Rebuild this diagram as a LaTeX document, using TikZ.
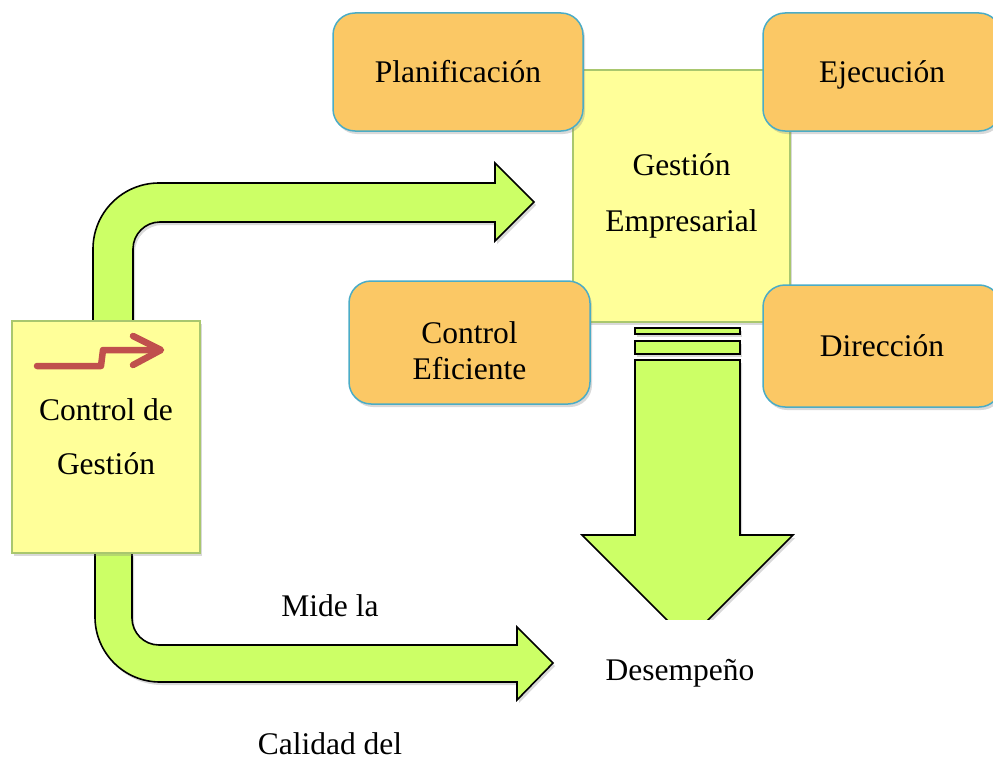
\documentclass[tikz,border=0pt]{standalone}
\usepackage{fontspec}
\setmainfont{Liberation Serif}
\usetikzlibrary{positioning, calc, shadows}

\definecolor{boxyellow}{HTML}{FFFF99}
\definecolor{boxedge}{HTML}{A9C76E}
\definecolor{taskorange}{HTML}{FBC865}
\definecolor{taskedge}{HTML}{4BACC6}
\definecolor{flowgreen}{HTML}{CCFF66}
\definecolor{markred}{HTML}{C0504D}

\begin{document}
\begin{tikzpicture}[x=1pt, y=-1pt,
    softshadow/.style={drop shadow={opacity=0.3, shadow xshift=2pt, shadow yshift=-3pt}},
    mainbox/.style={draw=boxedge, line width=1.5pt, fill=boxyellow, softshadow,
        font=\fontsize{31.5}{37.8}\selectfont, align=center, inner sep=0pt},
    taskbox/.style={draw=taskedge, line width=1.5pt, fill=taskorange, rounded corners=22pt, softshadow,
        font=\fontsize{31.5}{37.8}\selectfont, inner sep=0pt, text height=28pt, text depth=7pt},
    flow/.style={draw=black, line width=1.6pt, fill=flowgreen, line join=miter, softshadow},
    lbl/.style={font=\fontsize{31.5}{37.8}\selectfont, align=center, inner sep=0pt}]

    \useasboundingbox (0,0) rectangle (993,760);

    % bent arrows out of the control box
    \draw[flow]
        (93,321) [rounded corners=66pt]-- (93,183) [sharp corners]-- (495,183) -- (495,163)
        -- (534,202) -- (495,241) -- (495,222) [rounded corners=27pt]-- (133,222)
        [sharp corners]-- (133,321) -- cycle;
    \draw[flow]
        (95,553) [rounded corners=65pt]-- (95,682) [sharp corners]-- (517,682) -- (517,700)
        -- (553,663) -- (517,627) -- (517,645) [rounded corners=27pt]-- (132,645)
        [sharp corners]-- (132,553) -- cycle;

    % arrow down to the result
    \draw[flow] (635,328) rectangle (740,334);
    \draw[flow] (635,341) rectangle (740,354);
    \begin{scope}
        \clip (0,0) rectangle (993,619);
        \draw[flow]
            (635,360) -- (740,360) -- (740,535) -- (793,535) -- (687.5,640.5)
            -- (582,535) -- (635,535) -- cycle;
    \end{scope}

    % main boxes
    \node[mainbox, minimum width=217pt, minimum height=252pt] (ge) at (681.5,196)
        {Gesti\'on\\[18pt]Empresarial};
    \node[mainbox, minimum width=188pt, minimum height=232pt] (cg) at (106,437)
        {Control de\\[16pt]Gesti\'on};

    % task boxes round the main box
    \foreach \name/\cx/\cy/\w/\h/\txt in {
        plan/458/72/250/118/{Planificaci\'on},
        ejec/882/72/238/118/{Ejecuci\'on},
        ctrl/469.5/342.5/241/123/{},
        dire/882/346/238/122/{Direcci\'on}}{

        \node[taskbox, minimum width=\w pt, minimum height=\h pt] (\name) at (\cx,\cy) {\txt};
    }
    \node[lbl] (ctrltext) at ($(ctrl.center)+(0,8)$) {Control\\[-2pt]Eficiente};

    % red mark in the control box
    \draw[markred, line width=6.5pt, line cap=round, line join=round]
        (37,366) -- (101,366) -- (103,350) -- (158,350);
    \draw[markred, line width=6.5pt, line cap=round, line join=round]
        (133,336) -- (161,350) -- (133,365);

    % free texts
    \node[lbl] (mide) at (330,606) {Mide la};
    \node[lbl] (desem) at (680,673) {Desempe\~no};
    \node[lbl] (calid) at (330,744) {Calidad del};
\end{tikzpicture}
\end{document}
